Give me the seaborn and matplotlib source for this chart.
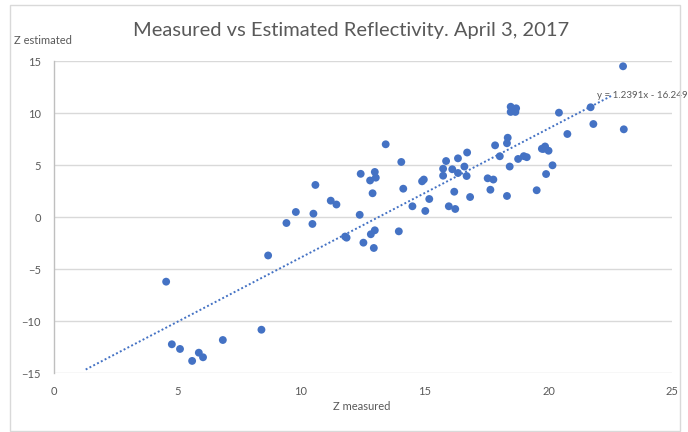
import numpy as np
import pandas as pd
import seaborn as sns
import matplotlib.pyplot as plt
from matplotlib.patches import Rectangle

# Reflectivity pairs (dBZ): radar-measured vs estimated
z_measured = [
    4.55, 4.78, 5.11, 5.60, 5.87, 6.04, 6.84, 8.40, 8.67, 9.41,
    9.79, 10.46, 10.50, 10.58, 11.20, 11.43, 11.78, 11.84, 12.37, 12.41,
    12.79, 12.98, 13.02, 12.89, 12.52, 12.82, 12.98, 12.94, 13.42, 13.95,
    14.05, 14.13, 14.50, 14.89, 14.96, 15.02, 15.18, 15.74, 15.74, 15.86,
    15.97, 16.11, 16.19, 16.23, 16.34, 16.34, 16.60, 16.69, 16.71, 16.83,
    17.54, 17.77, 17.65, 17.84, 18.03, 18.32, 18.35, 18.43, 18.32, 18.77,
    19.00, 19.12, 19.52, 19.90, 20.16, 19.73, 19.86, 20.00, 19.79, 20.42,
    20.76, 21.70, 21.81, 23.01, 23.04, 18.47, 18.69, 18.47, 18.66, 18.57,
]
z_estimated = [
    -6.19, -12.21, -12.66, -13.81, -13.02, -13.46, -11.80, -10.81, -3.67, -0.55,
    0.51, -0.64, 0.35, 3.11, 1.60, 1.23, -1.85, -1.96, 0.24, 4.18,
    3.54, 4.36, 3.81, 2.31, -2.44, -1.63, -1.25, -2.95, 7.02, -1.35,
    5.32, 2.75, 1.06, 3.46, 3.63, 0.61, 1.76, 4.00, 4.67, 5.41,
    1.06, 4.62, 2.46, 0.80, 5.67, 4.26, 4.88, 3.97, 6.23, 1.95,
    3.75, 3.63, 2.65, 6.92, 5.87, 7.12, 7.65, 4.88, 2.05, 5.61,
    5.88, 5.78, 2.60, 4.16, 5.00, 6.59, 6.81, 6.40, 6.57, 10.06,
    8.01, 10.58, 8.97, 14.52, 8.46, 10.63, 10.48, 10.13, 10.13, 10.32,
]

# Linear trendline coefficients and its x extent
slope = 1.2391
intercept = -16.249
trend_x_range = [1.3, 22.55]
trend_label = "y = 1.2391x - 16.249"

x_ticks = [0, 5, 10, 15, 20, 25]
y_ticks = [-15, -10, -5, 0, 5, 10, 15]

df = pd.DataFrame({"Z measured": z_measured, "Z estimated": z_estimated})

sns.set_theme(style="white")
plt.rcParams["font.family"] = ["Lato", "DejaVu Sans"]

blue = "#4472C4"
grey_text = "#595959"
grid_col = "#D9D9D9"

fig = plt.figure(figsize=(6.88, 4.32), dpi=100)
ax = fig.add_axes([0.0778, 0.1359, 0.8994, 0.7222])

# chart frame
fig.patches.append(Rectangle((10 / 688, 1 / 432), 670 / 688, 426 / 432,
                             transform=fig.transFigure, fill=False,
                             edgecolor="#D9D9D9", linewidth=1.0))

sns.scatterplot(data=df, x="Z measured", y="Z estimated", ax=ax,
                color=blue, s=32, edgecolor="none", zorder=3, legend=False)

tx = np.array(trend_x_range)
ax.plot(tx, slope * tx + intercept, color=blue, lw=1.4,
        linestyle=(0, (1, 1.2)), zorder=4)
ax.text(21.95, 11.3, trend_label, fontsize=7, color=grey_text,
        ha="left", va="bottom", zorder=3, clip_on=False)

ax.set_xlim(0, 25)
ax.set_ylim(-15, 15)
ax.set_xticks(x_ticks)
ax.set_yticks(y_ticks)
ax.tick_params(axis="both", length=0, labelsize=8, colors=grey_text, pad=9)
ax.yaxis.grid(True, color=grid_col, lw=1.0)
ax.xaxis.grid(False)
ax.set_axisbelow(True)
for side in ["top", "right", "bottom"]:
    ax.spines[side].set_visible(False)
ax.spines["left"].set_color("#BFBFBF")
ax.spines["left"].set_linewidth(1.0)

ax.set_xlabel("")
ax.set_ylabel("")
fig.text(0.51, 0.929, "Measured vs Estimated Reflectivity. April 3, 2017",
         ha="center", va="center", fontsize=14.5, color=grey_text)
fig.text(14 / 688, 1 - 41 / 432, "Z estimated", ha="left", va="center",
         fontsize=8, color=grey_text)
fig.text(362 / 688, 1 - 407 / 432, "Z measured", ha="center", va="center",
         fontsize=8, color=grey_text)

fig.savefig("out.png", dpi=100)
